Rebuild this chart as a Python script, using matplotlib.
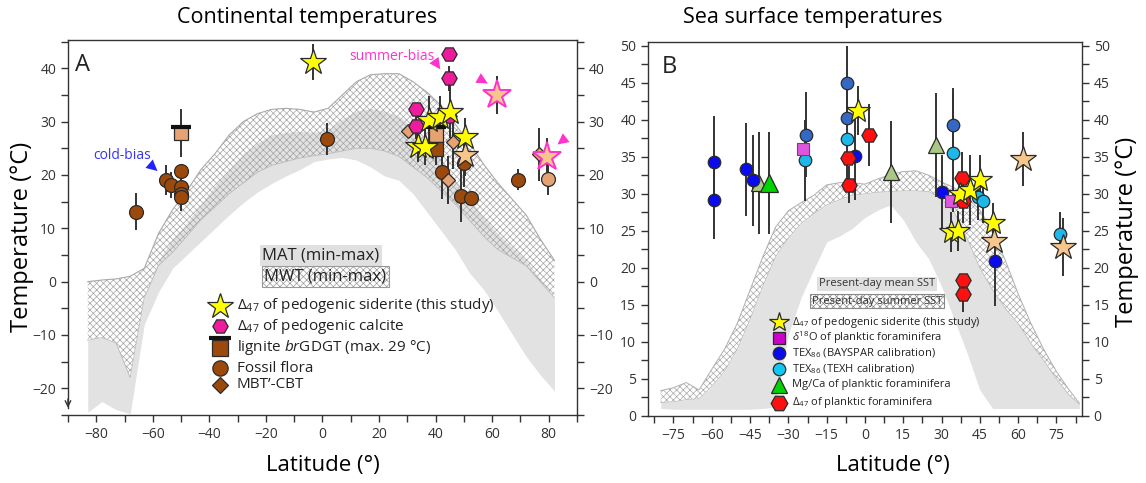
import numpy as np
import matplotlib.pyplot as plt
from matplotlib.ticker import MultipleLocator

plt.rcParams['font.family'] = ['Open Sans', 'DejaVu Sans']
plt.rcParams['mathtext.fontset'] = 'custom'
plt.rcParams['mathtext.rm'] = 'Open Sans'
plt.rcParams['mathtext.it'] = 'Open Sans:italic'
plt.rcParams['hatch.linewidth'] = 0.5

# present-day continental temperature envelopes
land_lat = [-83, -78, -73, -68, -63, -58, -53, -48, -43, -38, -33, -28, -23, -18, -13, -8, -3,
            2, 7, 12, 17, 22, 27, 32, 37, 42, 47, 52, 57, 62, 67, 72, 77, 82]
mwt_max = [0, 0.3, 0.5, 1, 2.5, 9, 13.5, 17, 21, 24, 27.5, 30, 31.5, 32.3, 32.5, 32.3, 31.8,
           32.5, 35, 37.5, 38.8, 39, 39, 37.5, 35.5, 33, 29.5, 26, 22, 18.5, 15.5, 12.5, 8, 4]
mwt_min = [-11, -10.5, -11.5, -18, -3, 3, 5.5, 8.5, 11.6, 14, 16.5, 18.5, 20.5, 21.8, 22.5, 23.2, 23.6,
           24, 24.5, 25, 25, 24.5, 23.5, 21.5, 19.5, 17, 14.5, 11.5, 8.5, 6, 4.5, 3, 0, -3]
mat_max = [-11, -10.5, -11.5, -18, -3, 4, 8, 11, 14.5, 18, 21, 24, 26, 27.5, 28, 28.2, 28,
           28.5, 30.5, 32, 32.5, 32, 31, 29, 26, 23, 19, 15.5, 12, 9, 6.5, 4, 0.5, -3]
mat_min = [-24.5, -22.5, -24, -24.8, -8, -2, 2.5, 5, 7.5, 10, 12.5, 14.8, 16.8, 18.4, 19.8, 21, 22.5,
           23, 23.3, 22.8, 21.5, 19.8, 19, 16.5, 13, 9.5, 6, 1.6, -1.5, -5.5, -9.8, -14, -17.5, -20.5]

# present-day sea surface temperature envelopes
sea_lat = [-80, -75, -70, -65, -60, -55, -50, -45, -40, -35, -30, -25, -20, -15, -10, -5, 0,
           5, 10, 15, 20, 25, 30, 35, 40, 45, 50, 55, 60, 65, 70, 75, 80, 84]
sst_summer_max = [3.4, 3.8, 4.5, 3.5, 6.3, 9, 12.5, 17, 21.5, 25.5, 27.7, 28.8, 29.8, 31.2, 31.5, 31.5, 31.3,
                  32, 32.6, 33, 33.1, 32.5, 31.6, 30.8, 29.5, 27.8, 25, 21, 16.5, 12.5, 9, 6, 3.5, 1.7]
sst_summer_min = [1.8, 1.9, 2.2, 2.3, 4, 6, 9, 13, 17.5, 21.5, 24, 26, 27.3, 28.5, 29.2, 29.8, 30,
                  30.2, 30.3, 30.4, 30.4, 30.3, 29.3, 27.5, 24, 20, 17, 14.5, 12.5, 9.8, 7.5, 5, 2.8, 1.6]
sst_mean_max = sst_summer_min
sst_mean_min = [1.0, 0.9, 0.9, 0.9, 0.9, 0.9, 0.9, 0.9, 1.0, 1.2, 11, 16, 19.8, 23.5, 24.3, 25.3, 26.8,
                27.8, 28.5, 26.5, 23.5, 21.2, 17.5, 13, 8.5, 3.5, 1.0, 1.0, 1.0, 1.0, 1.0, 1.0, 1.0, 1.0]

# --- panel A proxies ---
sid_lat = [-3.3, 37.5, 41.6, 45.1, 50.5, 33.9, 36.3]
sid_t = [41.2, 30.3, 30.9, 31.9, 27.2, 25.4, 25.3]
sid_err = [3.3, 4.5, 4, 5, 3.5, 3, 3.5]
sidp_lat = [50.5]
sidp_t = [23.8]
sidp_err = [4]
sidb_lat = [61.7, 79.4]          # summer-biased
sidb_t = [35, 23.4]
sidb_err = [3.5, 3.5]
cal_lat = [44.9, 44.9, 33.1, 33.1, 44.9]
cal_t = [42.7, 38.1, 32.3, 29.2, 31]
cal_err = [0, 2.3, 0, 2.5, 0]
lig_lat = [-50.1, 40.2]
lig_t = [27.9, 27.5]
lig_err = [4.5, 3.5]
ligd_lat = [40.2]
ligd_t = [24.8]
ligd_err = [3]
lig_cap = 29
flora_lat = [-66.1, -55.4, -53.4, -50.2, -50.2, -50.2, -50.2, 1.5, 42.2, 49.0, 52.5, 50.1, 69.0]
flora_t = [13.1, 19.1, 18.1, 20.8, 17.8, 16.4, 15.8, 26.7, 20.5, 16.1, 15.6, 22.2, 19.1]
flora_err = [3.5, 2.8, 2.5, 0, 0, 3, 2.5, 3, 5, 5, 0, 4.5, 2]
florap_lat = [79.7]
florap_t = [19.2]
florap_err = [3]
mbt_lat = [30.4, 46.1, 44.3, 76.4]
mbt_t = [28.3, 26.1, 19.1, 23.9]
mbt_err = [0, 5, 4.5, 5]

# --- panel B proxies ---
bay_lat = [-59.1, -59.1, -46.6, -44, 30.3, -3.9, 50.9]
bay_t = [34.3, 29.2, 33.3, 31.8, 30.3, 35.1, 20.9]
bay_err = [6.2, 5.3, 6.3, 6.2, 5, 6, 6]
bays_lat = [-23.1, -7.2, -7.2, 34.3]
bays_t = [38, 44.9, 40.2, 39.3]
bays_err = [5.7, 5, 0, 5]
texh_lat = [-23.5, -7.2, 34.3, 44.3, 46.3, 76.3]
texh_t = [34.5, 37.4, 35.5, 29.5, 29, 24.6]
texh_err = [5.5, 7, 8, 3, 3, 3]
d18o_lat = [-24.1, 33.9]
d18o_t = [36, 29]
mgca_lat = [-37.4]
mgca_t = [31.4]
mgca_err = [6.9]
mgcap_lat = [-41.5, 10.4, 27.8]
mgcap_t = [31.4, 32.9, 36.6]
mgcap_err = [6.9, 6.9, 7]
pf_lat = [-6.5, -6.1, 1.7, 38.2, 38.5, 38.5, 38.5]
pf_t = [34.8, 31.2, 37.9, 32.1, 29, 18.3, 16.4]
pf_err = [0, 2.5, 4.2, 3.5, 3, 0, 2.4]
ssid_lat = [-2.9, 33.9, 36.5, 37.2, 41.1, 45, 50.2]
ssid_t = [41.2, 24.9, 25, 30, 30.5, 31.8, 26]
ssid_err = [3.3, 2.7, 2.7, 0, 4.7, 3.5, 2.7]
ssidp_lat = [50.6, 62, 77.6]
ssidp_t = [23.6, 34.7, 22.8]
ssidp_err = [0, 3.6, 3.9]

YEL = '#ffff00'
PEACH = '#f6c68c'
MAG = '#ee1c9c'
BROWN = '#9c4a0c'
PALEBR = '#e6a272'
BLUE = '#0a0aee'
SBLUE = '#3468c4'
CYAN = '#1cb8ea'
GREEN = '#00d400'
PGREEN = '#a9c883'
RED = '#ff1010'
VIOL = '#e055e0'
EDGE = '#2a2a2a'


def pts(ax, lat, t, err, marker, ms, fc, ec=EDGE, mew=0.9, z=5):
    ax.errorbar(lat, t, yerr=err, fmt='none', ecolor='#333333', elinewidth=1.4, zorder=3)
    ax.plot(lat, t, ls='none', marker=marker, ms=ms, mfc=fc, mec=ec, mew=mew, zorder=z)


def legrow(ax, x, y, marker, ms, fc, label, fs, dx):
    ax.plot([x], [y], transform=ax.transAxes, marker=marker, ms=ms, mfc=fc, mec=EDGE,
            mew=0.9, clip_on=False, zorder=6)
    ax.text(x + dx, y, label, transform=ax.transAxes, va='center', ha='left', fontsize=fs, color='#222222')


def style(ax):
    for s in ax.spines.values():
        s.set_color('#333333')
        s.set_linewidth(1.0)
    ax.tick_params(which='both', direction='out', length=5, width=1, colors='#333333',
                   labelsize=10, labelcolor='#333333', right=True, labelright=True)


fig = plt.figure(figsize=(11.46, 4.83), dpi=100)
axA = fig.add_axes([0.0593, 0.141, 0.4442, 0.776])
axB = fig.add_axes([0.5654, 0.139, 0.3787, 0.774])

# ---------------- panel A ----------------
axA.fill_between(land_lat, mat_min, mat_max, color='#e2e2e2', lw=0, zorder=1)
axA.fill_between(land_lat, mwt_min, mwt_max, facecolor='none', edgecolor='#a4a4a4', hatch='xxxxx',
                 lw=0, zorder=2)
axA.plot(land_lat, mwt_max, color='#aaaaaa', lw=0.8, zorder=2)
axA.plot(land_lat, mwt_min, color='#bbbbbb', lw=0.6, zorder=2)

pts(axA, flora_lat, flora_t, flora_err, 'o', 10, BROWN)
pts(axA, florap_lat, florap_t, florap_err, 'o', 10, PALEBR)
pts(axA, mbt_lat, mbt_t, mbt_err, 'D', 7.5, PALEBR)
pts(axA, lig_lat, lig_t, lig_err, 's', 10, PALEBR)
axA.plot(lig_lat, [lig_cap] * len(lig_lat), ls='none', marker='_', ms=15, mew=3, color='#111111', zorder=6)
pts(axA, ligd_lat, ligd_t, ligd_err, 's', 10, BROWN)
pts(axA, cal_lat, cal_t, cal_err, 'H', 11, MAG)
pts(axA, sidp_lat, sidp_t, sidp_err, '*', 19, PEACH, z=7)
pts(axA, sid_lat, sid_t, sid_err, '*', 19, YEL, z=7)
pts(axA, sidb_lat, sidb_t, sidb_err, '*', 21, PEACH, ec='#ff33cc', mew=1.4, z=7)

axA.text(-71, 23.6, 'cold-bias', color='#3333ff', fontsize=10, ha='center', va='center')
axA.annotate('', xy=(-57.6, 20.4), xytext=(-61.5, 22.2),
             arrowprops=dict(arrowstyle='-|>,head_length=0.8,head_width=0.4', color='#2222ff', lw=0))
axA.text(24.5, 42.3, 'summer-bias', color='#ff33cc', fontsize=10, ha='center', va='center')
for tip, tail in [((42.2, 39.4), (39.6, 41.4)), ((59.3, 36.9), (55.0, 38.2)), ((82.3, 25.4), (86.2, 27.0))]:
    axA.annotate('', xy=tip, xytext=tail,
                 arrowprops=dict(arrowstyle='-|>,head_length=0.8,head_width=0.4', color='#ff33cc', lw=0))

axA.text(0.014, 0.965, 'A', transform=axA.transAxes, fontsize=17, va='top', ha='left', color='#222222')

axA.set_xlim(-90, 90)
axA.set_ylim(-25, 45.3)
axA.xaxis.set_major_locator(MultipleLocator(20))
axA.xaxis.set_minor_locator(MultipleLocator(10))
axA.yaxis.set_major_locator(MultipleLocator(10))
axA.yaxis.set_minor_locator(MultipleLocator(5))
style(axA)
axA.spines['left'].set_bounds(-23.8, 45.3)
axA.annotate('', xy=(0, -24.2), xycoords=('axes fraction', 'data'), xytext=(0, -21.5),
             textcoords=('axes fraction', 'data'), arrowprops=dict(arrowstyle='->', lw=1, color='#333333'))

axA.text(0.497, 0.424, 'MAT (min-max)', transform=axA.transAxes, ha='center', va='center', fontsize=12,
         color='#222222', bbox=dict(boxstyle='square,pad=0.15', fc='#e0e0e0', ec='none'))
axA.text(0.505, 0.368, 'MWT (min-max)', transform=axA.transAxes, ha='center', va='center', fontsize=12,
         color='#222222', bbox=dict(boxstyle='square,pad=0.15', fc='white', ec='#999999', hatch='xxxxx', lw=0.8))

lx, dx = 0.2986, 0.033
legrow(axA, lx, 0.291, '*', 19, YEL, r'$\mathit{\Delta}_{47}$ of pedogenic siderite (this study)', 11, dx)
legrow(axA, lx, 0.237, 'H', 11, MAG, r'$\mathit{\Delta}_{47}$ of pedogenic calcite', 11, dx)
legrow(axA, lx, 0.179, 's', 11, BROWN, r'lignite $\mathit{br}$GDGT (max. 29 °C)', 11, dx)
axA.plot([lx], [0.205], transform=axA.transAxes, marker='_', ms=16, mew=3, color='#111111', clip_on=False)
legrow(axA, lx, 0.125, 'o', 11, BROWN, 'Fossil flora', 11, dx)
legrow(axA, lx, 0.080, 'D', 8, BROWN, 'MBT\u2019-CBT', 11, dx)

# ---------------- panel B ----------------
axB.fill_between(sea_lat, sst_mean_min, sst_mean_max, color='#e2e2e2', lw=0, zorder=1)
axB.fill_between(sea_lat, sst_summer_min, sst_summer_max, facecolor='white', edgecolor='#a8a8a8',
                 hatch='xxxxx', lw=0, zorder=2)
axB.plot(sea_lat, sst_summer_max, color='#b0b0b0', lw=0.7, zorder=2)
axB.plot(sea_lat, sst_summer_min, color='#c0c0c0', lw=0.6, zorder=2)

pts(axB, mgcap_lat, mgcap_t, mgcap_err, '^', 12, PGREEN)
pts(axB, mgca_lat, mgca_t, mgca_err, '^', 13, GREEN)
pts(axB, texh_lat, texh_t, texh_err, 'o', 9, CYAN)
pts(axB, bays_lat, bays_t, bays_err, 'o', 9, SBLUE)
pts(axB, bay_lat, bay_t, bay_err, 'o', 9, BLUE)
axB.plot(d18o_lat, d18o_t, ls='none', marker='s', ms=8, mfc=VIOL, mec='#555555', mew=0.8, zorder=5)
pts(axB, pf_lat, pf_t, pf_err, 'H', 11, RED)
pts(axB, ssidp_lat, ssidp_t, ssidp_err, '*', 19, PEACH, z=7)
pts(axB, ssid_lat, ssid_t, ssid_err, '*', 18, YEL, z=7)

axB.text(0.032, 0.965, 'B', transform=axB.transAxes, fontsize=17, va='top', ha='left', color='#222222')

axB.set_xlim(-85, 85)
axB.set_ylim(0, 50.5)
axB.xaxis.set_major_locator(MultipleLocator(15))
axB.xaxis.set_minor_locator(MultipleLocator(7.5))
axB.yaxis.set_major_locator(MultipleLocator(5))
axB.yaxis.set_minor_locator(MultipleLocator(2.5))
style(axB)

axB.text(0.528, 0.353, 'Present-day mean SST', transform=axB.transAxes, ha='center', va='center',
         fontsize=8, color='#333333', bbox=dict(boxstyle='square,pad=0.15', fc='#e0e0e0', ec='none'))
axB.text(0.528, 0.307, 'Present-day summer SST', transform=axB.transAxes, ha='center', va='center',
         fontsize=8, color='#333333',
         bbox=dict(boxstyle='square,pad=0.15', fc='white', ec='#888888', hatch='xxxxx', lw=0.8))

lx, dx = 0.302, 0.030
legrow(axB, lx, 0.251, '*', 15, YEL, r'$\mathit{\Delta}_{47}$ of pedogenic siderite (this study)', 8, dx)
legrow(axB, lx, 0.209, 's', 8, '#cc00cc', r'$\mathit{\delta}^{18}$O of planktic foraminifera', 8, dx)
legrow(axB, lx, 0.168, 'o', 9, BLUE, r'TEX$_{86}$ (BAYSPAR calibration)', 8, dx)
legrow(axB, lx, 0.126, 'o', 9, '#12c8f0', r'TEX$_{86}$ (TEXH calibration)', 8, dx)
legrow(axB, lx, 0.083, '^', 12, GREEN, 'Mg/Ca of planktic foraminifera', 8, dx)
legrow(axB, lx, 0.035, 'H', 12, RED, r'$\mathit{\Delta}_{47}$ of planktic foraminifera', 8, dx)

# titles and axis labels
fig.text(307 / 1146, 0.963, 'Continental temperatures', ha='center', va='center', fontsize=15.5)
fig.text(813 / 1146, 0.963, 'Sea surface temperatures', ha='center', va='center', fontsize=15.5)
fig.text(323 / 1146, 1 - 465 / 483, 'Latitude (°)', ha='center', va='center', fontsize=16)
fig.text(893 / 1146, 1 - 465 / 483, 'Latitude (°)', ha='center', va='center', fontsize=16)
fig.text(0.019, 0.509, 'Temperature (°C)', rotation=90, ha='center', va='center', fontsize=17)
fig.text(0.983, 0.52, 'Temperature (°C)', rotation=90, ha='center', va='center', fontsize=17)

fig.savefig('out.png', dpi=100)
